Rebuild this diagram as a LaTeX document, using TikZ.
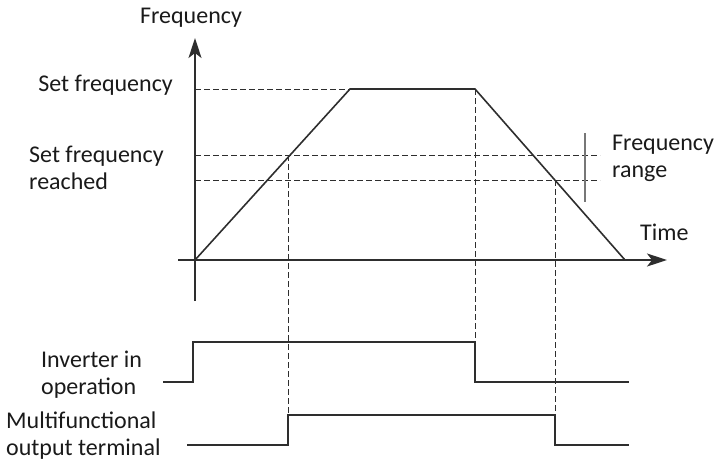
\documentclass[tikz,border=0pt]{standalone}
\usepackage{fontspec}
\setmainfont{Carlito}
\usetikzlibrary{arrows.meta,calc}
\definecolor{ln}{HTML}{2E2E2E}
\definecolor{tx}{HTML}{1A1A1A}
\definecolor{bar}{HTML}{777777}
\begin{document}
\begin{tikzpicture}[x=1pt,y=-1pt,
  lbl/.style={text=tx,font=\fontsize{24}{27}\selectfont,inner sep=0pt,align=left},
  sig/.style={draw=ln,line width=1.6pt,line join=miter},
  guide/.style={draw=ln,line width=1pt,dash pattern=on 6pt off 3pt},
  axis/.style={draw=ln,line width=1.6pt,-{Stealth[length=20pt,width=13pt,inset=5pt]}}]
\useasboundingbox (0,0) rectangle (720,464);
% axes
\coordinate (O) at (195,260);
\coordinate (ytop) at (195,38);
\coordinate (ybot) at (195,301);
\coordinate (xl) at (178,260);
\coordinate (xr) at (667,260);
% frequency profile
\coordinate (A) at (350,89);
\coordinate (B) at (475,89);
\coordinate (C) at (625,260);
\coordinate (yset) at (195,89);
\coordinate (r1l) at (195,155);
\coordinate (r1r) at (600,155);
\coordinate (r2l) at (195,180);
\coordinate (r2r) at (600,180);
\coordinate (bt) at (585,133);
\coordinate (bb) at (585,202);
\coordinate (P1) at (288,155);
\coordinate (P2) at (555,180);
% inverter signal
\coordinate (i0) at (163,382);
\coordinate (i1) at (193,382);
\coordinate (i2) at (193,342);
\coordinate (i3) at (475,342);
\coordinate (i4) at (475,382);
\coordinate (i5) at (629,382);
% multifunctional signal
\coordinate (m0) at (187,445);
\coordinate (m1) at (288,445);
\coordinate (m2) at (288,415);
\coordinate (m3) at (555,415);
\coordinate (m4) at (555,445);
\coordinate (m5) at (629,445);

% guides
\draw[guide] (yset) -- (A);
\draw[guide] (r1l) -- (r1r);
\draw[guide] (r2l) -- (r2r);
\draw[guide] (P1) -- (m2);
\draw[guide] (B) -- (i3);
\draw[guide] (P2) -- (m3);
\draw[draw=bar,line width=1.5pt] (bt) -- (bb);

% axes and curves
\draw[axis] (ybot) -- (ytop);
\draw[axis] (xl) -- (xr);
\draw[sig] (O) -- (A) -- (B) -- (C);
\draw[sig] (i0) -- (i1) -- (i2) -- (i3) -- (i4) -- (i5);
\draw[sig] (m0) -- (m1) -- (m2) -- (m3) -- (m4) -- (m5);

% labels (base anchor of a two-line node = baseline of its last line)
\node[lbl,anchor=base] (freqlbl) at (191,23) {Frequency};
\node[lbl,anchor=base east] (setf) at (173,91) {Set frequency};
\node[lbl,anchor=base west] (reached) at (29,189) {Set frequency\\reached};
\node[lbl,anchor=base west] (range) at (612,177) {Frequency\\range};
\node[lbl,anchor=base west] (time) at (640,240) {Time};
\node[lbl,anchor=base west] (inv) at (41,394) {Inverter in\\operation};
\node[lbl,anchor=base west] (mf) at (6,455) {Multifunctional\\output terminal};
\end{tikzpicture}
\end{document}
